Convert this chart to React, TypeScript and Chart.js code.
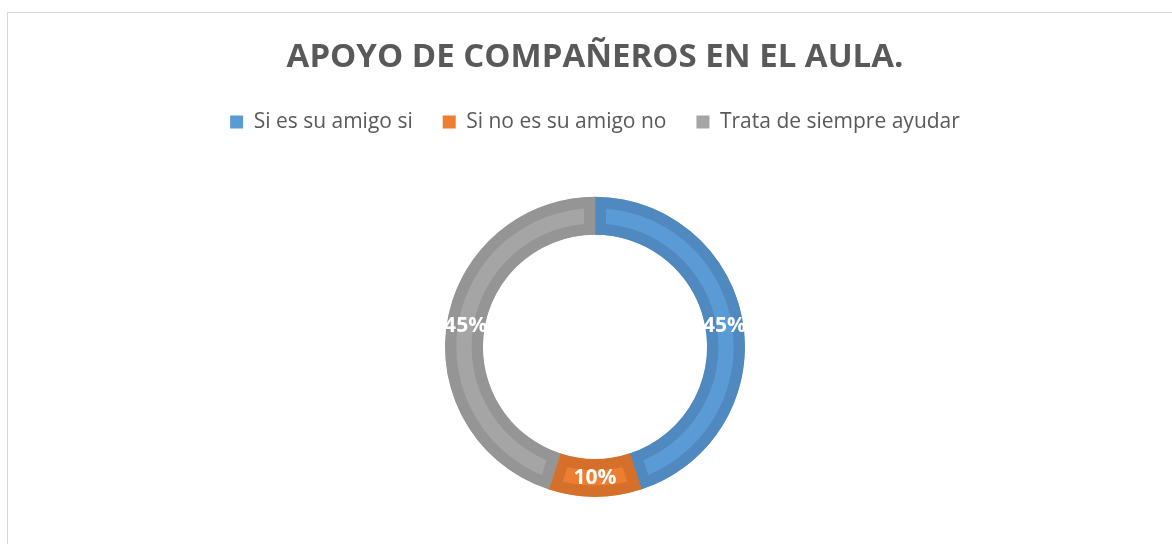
import React, { useEffect, useRef } from "react";
import { Chart, registerables } from "chart.js";

Chart.register(...registerables);

const TITLE = "APOYO DE COMPAÑEROS EN EL AULA.";
const categories = ["Si es su amigo si", "Si no es su amigo no", "Trata de siempre ayudar"];
const values = [45, 10, 45];
const fillColors = ["#5B9BD5", "#ED7D31", "#A5A5A5"];
const rimColors = ["#4F89C0", "#D5702B", "#959595"];

const FONT = "'Open Sans', 'DejaVu Sans', sans-serif";

const arcLabels = {
  id: "arcLabels",
  afterDatasetsDraw(chart: any) {
    const ctx = chart.ctx;
    const meta = chart.getDatasetMeta(0);
    const data = chart.data.datasets[0].data as number[];
    const total = data.reduce((a, b) => a + b, 0);
    ctx.save();
    ctx.fillStyle = "#FFFFFF";
    ctx.font = `bold 21px ${FONT}`;
    ctx.textAlign = "center";
    ctx.textBaseline = "middle";
    meta.data.forEach((arc: any, i: number) => {
      const p = arc.getProps(["x", "y", "startAngle", "endAngle", "innerRadius", "outerRadius"], true);
      const mid = (p.startAngle + p.endAngle) / 2;
      const r = (p.innerRadius + p.outerRadius) / 2;
      const label = Math.round((data[i] / total) * 100) + "%";
      ctx.fillText(label, p.x + Math.cos(mid) * r, p.y + Math.sin(mid) * r);
    });
    ctx.restore();
  },
};

export default function App() {
  const ref = useRef<HTMLCanvasElement | null>(null);
  useEffect(() => {
    if (!ref.current) return;
    const defaultGen = (Chart as any).overrides.doughnut.plugins.legend.labels.generateLabels;
    const chart = new Chart(ref.current, {
      type: "doughnut",
      data: {
        labels: categories,
        datasets: [
          {
            data: values,
            backgroundColor: fillColors,
            borderColor: rimColors,
            borderWidth: 11,
            borderAlign: "inner",
            hoverOffset: 0,
          },
        ],
      },
      options: {
        animation: false,
        responsive: false,
        radius: 150,
        cutout: "74.7%",
        layout: { padding: { top: 0, bottom: 62, left: 0, right: 0 } },
        plugins: {
          tooltip: { enabled: false },
          title: {
            display: true,
            text: TITLE,
            color: "#595959",
            font: { family: FONT, size: 33, weight: "bold" },
            padding: { top: 25, bottom: 4 },
          },
          legend: {
            display: true,
            position: "top",
            labels: {
              color: "#595959",
              font: { family: FONT, size: 21 },
              boxWidth: 13,
              boxHeight: 13,
              padding: 30,
              generateLabels: (c: any) =>
                defaultGen(c).map((l: any) => ({ ...l, lineWidth: 0, strokeStyle: l.fillStyle })),
            },
          },
        },
      } as any,
      plugins: [arcLabels],
    });
    return () => chart.destroy();
  }, []);

  return (
    <div
      style={{
        position: "fixed",
        left: 7,
        top: 12,
        width: 1300,
        height: 700,
        border: "1px solid #D9D9D9",
        boxSizing: "border-box",
        background: "#FFFFFF",
        overflow: "hidden",
      }}
    >
      <canvas
        ref={ref}
        width={1174}
        height={600}
        style={{ position: "absolute", left: 0, top: 0, width: 1174, height: 600 }}
      />
    </div>
  );
}
